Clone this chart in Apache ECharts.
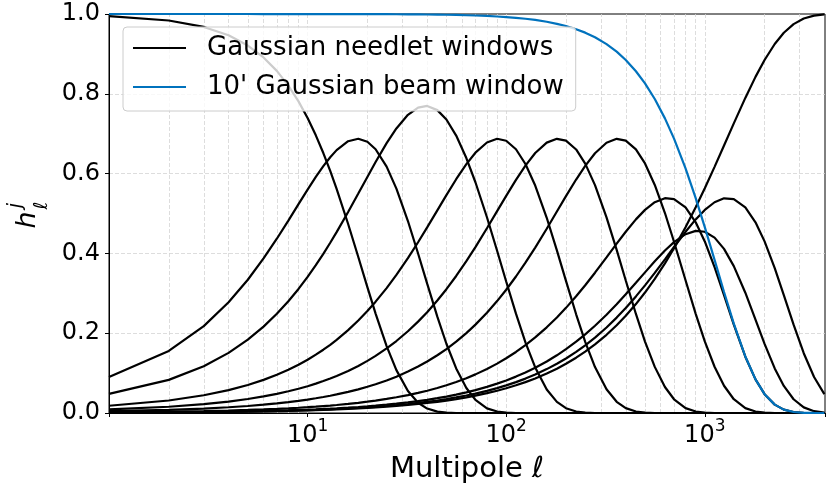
<!DOCTYPE html>
<html>
<head>
<meta charset="utf-8">
<script src="https://cdn.jsdelivr.net/npm/echarts@6/dist/echarts.min.js"></script>
<style>
  html, body { margin: 0; padding: 0; background: #ffffff; }
  #chart { width: 830px; height: 483px; }
</style>
</head>
<body>
<div id="chart"></div>
<script>
// Multipole grid (x values)
const ell = [1,2,3,4,5,6,7,8,9,10,11,12,13,14,16,18,20,22,25,28,32,36,40,45,50,56,63,70,80,90,
  100,112,125,140,160,180,200,225,250,280,320,360,400,450,500,560,630,700,800,900,
  1000,1120,1250,1400,1600,1800,2000,2250,2500,2800,3150,3550,4000];

// Gaussian needlet windows
const needlet1 = [0.9945,0.9837,0.9676,0.9466,0.9209,0.8910,0.8574,0.8206,0.7810,0.7392,0.6959,0.6515,0.6066,0.5617,0.4737,0.3909,0.3155,0.2491,0.1677,0.1075,0.0550,0.0258,0.0111,0.0034,0.0009,
  0,0,0,0,0,0,0,0,0,0,0,0,0,0,0,0,0,0,0,0,0,0,0,0,0,0,0,0,0,0,0,0,0,0,0,0,0,0];
const needlet2 = [0.0905,0.1556,0.2178,0.2774,0.3340,0.3873,0.4368,0.4822,0.5233,0.5597,0.5916,0.6186,0.6410,0.6588,0.6811,0.6873,0.6798,0.6611,0.6176,0.5624,0.4811,0.3998,0.3241,0.2414,0.1736,0.1117,0.0627,0.0330,0.0117,0.0036,
  0.0010,0,0,0,0,0,0,0,0,0,0,0,0,0,0,0,0,0,0,0,0,0,0,0,0,0,0,0,0,0,0,0,0];
const needlet3 = [0.0480,0.0830,0.1171,0.1507,0.1838,0.2165,0.2486,0.2801,0.3109,0.3411,0.3704,0.3989,0.4266,0.4533,0.5037,0.5499,0.5917,0.6290,0.6763,0.7132,0.7473,0.7653,0.7696,0.7591,0.7355,0.6953,0.6390,0.5783,0.4906,0.4066,
  0.3297,0.2490,0.1772,0.1143,0.0590,0.0279,0.0121,0.0037,0.0010,0,0,0,0,0,0,0,0,0,0,0,0,0,0,0,0,0,0,0,0,0,0,0,0];
const needlet4 = [0.0181,0.0314,0.0444,0.0573,0.0702,0.0830,0.0957,0.1084,0.1210,0.1336,0.1462,0.1586,0.1710,0.1834,0.2078,0.2319,0.2556,0.2790,0.3131,0.3461,0.3882,0.4280,0.4652,0.5079,0.5461,0.5859,0.6237,0.6524,0.6780,0.6873,
  0.6823,0.6610,0.6241,0.5701,0.4893,0.4077,0.3313,0.2474,0.1784,0.1152,0.0595,0.0281,0.0122,0.0037,0.0010,0,0,0,0,0,0,0,0,0,0,0,0,0,0,0,0,0,0];
const needlet5 = [0.0091,0.0157,0.0222,0.0287,0.0351,0.0416,0.0480,0.0544,0.0608,0.0672,0.0736,0.0800,0.0863,0.0927,0.1054,0.1180,0.1306,0.1431,0.1618,0.1804,0.2048,0.2290,0.2527,0.2819,0.3103,0.3434,0.3805,0.4159,0.4630,0.5059,
  0.5443,0.5844,0.6201,0.6515,0.6776,0.6872,0.6825,0.6605,0.6250,0.5711,0.4903,0.4087,0.3322,0.2482,0.1790,0.1156,0.0652,0.0344,0.0123,0.0038,0.0010,0,0,0,0,0,0,0,0,0,0,0,0];
const needlet6 = [0.0045,0.0078,0.0111,0.0144,0.0176,0.0208,0.0240,0.0272,0.0304,0.0336,0.0369,0.0401,0.0433,0.0465,0.0529,0.0593,0.0657,0.0720,0.0816,0.0911,0.1038,0.1165,0.1291,0.1447,0.1603,0.1789,0.2003,0.2215,0.2513,0.2805,
  0.3089,0.3421,0.3767,0.4146,0.4619,0.5049,0.5434,0.5851,0.6195,0.6511,0.6774,0.6872,0.6827,0.6607,0.6254,0.5716,0.5012,0.4293,0.3326,0.2485,0.1794,0.1159,0.0683,0.0345,0.0123,0.0038,0.0010,0,0,0,0,0,0];
const needlet7 = [0.0020,0.0034,0.0048,0.0062,0.0076,0.0090,0.0103,0.0117,0.0131,0.0145,0.0159,0.0173,0.0186,0.0200,0.0228,0.0255,0.0283,0.0311,0.0352,0.0394,0.0448,0.0503,0.0558,0.0627,0.0695,0.0777,0.0873,0.0968,0.1103,0.1237,
  0.1371,0.1530,0.1700,0.1894,0.2147,0.2394,0.2635,0.2925,0.3202,0.3516,0.3900,0.4243,0.4543,0.4853,0.5091,0.5283,0.5383,0.5361,0.5151,0.4779,0.4300,0.3658,0.2955,0.2212,0.1411,0.0842,0.0472,0.0210,0.0085,0.0025,0.0005,0,0];
const needlet8 = [0.0012,0.0020,0.0028,0.0037,0.0045,0.0053,0.0061,0.0069,0.0078,0.0086,0.0094,0.0102,0.0110,0.0118,0.0135,0.0151,0.0167,0.0184,0.0208,0.0233,0.0266,0.0298,0.0331,0.0371,0.0412,0.0461,0.0518,0.0574,0.0655,0.0736,
  0.0816,0.0912,0.1016,0.1135,0.1291,0.1446,0.1599,0.1788,0.1972,0.2187,0.2463,0.2726,0.2975,0.3263,0.3524,0.3801,0.4071,0.4282,0.4481,0.4565,0.4543,0.4395,0.4114,0.3682,0.3015,0.2340,0.1732,0.1118,0.0678,0.0345,0.0141,0.0045,0.0010];
const needlet9 = [0.0010,0.0017,0.0024,0.0031,0.0038,0.0045,0.0052,0.0059,0.0066,0.0072,0.0079,0.0086,0.0093,0.0100,0.0114,0.0128,0.0142,0.0155,0.0176,0.0197,0.0224,0.0252,0.0280,0.0314,0.0349,0.0390,0.0438,0.0486,0.0555,0.0623,
  0.0692,0.0774,0.0862,0.0964,0.1100,0.1234,0.1367,0.1533,0.1697,0.1890,0.2144,0.2391,0.2632,0.2922,0.3199,0.3513,0.3852,0.4160,0.4541,0.4852,0.5090,0.5282,0.5380,0.5362,0.5152,0.4780,0.4302,0.3632,0.2956,0.2214,0.1499,0.0902,0.0472];
const needlet10 = [0.0009,0.0015,0.0021,0.0028,0.0034,0.0040,0.0046,0.0052,0.0059,0.0065,0.0071,0.0077,0.0083,0.0090,0.0102,0.0114,0.0127,0.0139,0.0158,0.0176,0.0201,0.0225,0.0250,0.0281,0.0312,0.0349,0.0392,0.0435,0.0497,0.0559,
  0.0620,0.0694,0.0774,0.0866,0.0989,0.1111,0.1234,0.1386,0.1538,0.1720,0.1960,0.2199,0.2436,0.2730,0.3019,0.3361,0.3751,0.4132,0.4657,0.5158,0.5634,0.6169,0.6703,0.7258,0.7897,0.8424,0.8847,0.9248,0.9529,0.9746,0.9886,0.9959,0.9989];

// 10' Gaussian beam window
const beam10 = [1.0000,1.0000,1.0000,1.0000,1.0000,0.9999,0.9999,0.9999,0.9999,0.9999,0.9999,0.9999,0.9999,0.9998,0.9998,0.9997,0.9997,0.9996,0.9995,0.9994,0.9992,0.9990,0.9987,0.9984,0.9981,0.9976,0.9969,0.9962,0.9951,0.9938,
  0.9923,0.9904,0.9881,0.9851,0.9805,0.9754,0.9698,0.9619,0.9533,0.9417,0.9246,0.9056,0.8848,0.8565,0.8260,0.7869,0.7384,0.6877,0.6133,0.5386,0.4659,0.3837,0.3033,0.2239,0.1416,0.0843,0.0472,0.0210,0.0085,0.0025,0.0005,0.0001,0];

// Minor (dashed) vertical grid positions
const minorGrid = [2,3,4,5,6,7,8,9,20,30,40,50,60,70,80,90,200,300,400,500,600,700,800,900,2000,3000];

const needletName = 'Gaussian needlet windows';
const beamName = "10' Gaussian beam window";
const FONT = 'DejaVu Sans';
const GRID_COLOR = '#d4d4d4';

const needlets = [needlet1,needlet2,needlet3,needlet4,needlet5,needlet6,needlet7,needlet8,needlet9,needlet10];
const pairs = arr => ell.map((l, i) => [l, arr[i]]);

const series = [];
series.push({
  name: 'minor-grid', type: 'line', data: [], z: 1, silent: true,
  markLine: {
    z: 1, silent: true, symbol: ['none','none'], animation: false,
    label: { show: false },
    lineStyle: { color: GRID_COLOR, width: 0.8, type: [4, 2] },
    data: minorGrid.map(v => ({ xAxis: v }))
  }
});
needlets.forEach(arr => {
  series.push({
    name: needletName, type: 'line', data: pairs(arr), symbol: 'none', smooth: false,
    lineStyle: { color: '#000000', width: 2.2 }, itemStyle: { color: '#000000' }, z: 3
  });
});
series.push({
  name: beamName, type: 'line', data: pairs(beam10), symbol: 'none', smooth: false,
  lineStyle: { color: '#0072BD', width: 2.2 }, itemStyle: { color: '#0072BD' }, z: 3
});

const chart = echarts.init(document.getElementById('chart'), null, { renderer: 'canvas' });
chart.setOption({
  animation: false,
  backgroundColor: '#ffffff',
  textStyle: { fontFamily: FONT },
  grid: { left: 109, top: 14, right: 5, bottom: 70, containLabel: false, outerBoundsMode: 'none',
    show: true, borderColor: '#000', borderWidth: 1, backgroundColor: 'transparent' },
  legend: {
    data: [needletName, beamName],
    orient: 'vertical', left: 123, top: 27,
    icon: 'rect', itemWidth: 53, itemHeight: 2, itemGap: 9,
    padding: [6, 12, 9, 10],
    backgroundColor: 'rgba(255,255,255,0.8)',
    borderColor: '#cccccc', borderWidth: 1, borderRadius: 4,
    selectedMode: false,
    textStyle: { fontFamily: FONT, fontSize: 26, color: '#000', lineHeight: 30, padding: [0, 0, 0, 16] }
  },
  xAxis: {
    type: 'log', logBase: 10, min: 1, max: 4030,
    name: 'Multipole {i|ℓ}', nameLocation: 'middle', nameGap: 31,
    nameTextStyle: { fontFamily: FONT, fontSize: 29, color: '#000', lineHeight: 34,
      rich: { i: { fontFamily: FONT, fontSize: 29, fontStyle: 'italic', color: '#000', lineHeight: 34 } } },
    axisLine: { show: true, lineStyle: { color: '#000', width: 1 } },
    axisTick: { show: true, length: 4, lineStyle: { color: '#000' } },
    splitLine: { show: true, showMinLine: false, showMaxLine: false, lineStyle: { color: GRID_COLOR, width: 0.8, type: [4, 2] } },
    axisLabel: {
      margin: 5, color: '#000',
      formatter: function (v) {
        const l = Math.log10(v), r = Math.round(l);
        if (Math.abs(l - r) < 1e-6 && r >= 1) return '{b|10}{s|' + r + '}';
        return '';
      },
      rich: {
        b: { fontFamily: FONT, fontSize: 24, color: '#000', lineHeight: 30, verticalAlign: 'bottom' },
        s: { fontFamily: FONT, fontSize: 17, color: '#000', lineHeight: 17, verticalAlign: 'top' }
      }
    }
  },
  yAxis: {
    type: 'value', min: 0, max: 1, interval: 0.2,
    axisLine: { show: true, lineStyle: { color: '#000', width: 1 } },
    axisTick: { show: true, length: 4, lineStyle: { color: '#000' } },
    splitLine: { show: true, showMinLine: false, showMaxLine: false, lineStyle: { color: GRID_COLOR, width: 0.8, type: [4, 2] } },
    axisLabel: { margin: 9, color: '#000', fontFamily: FONT, fontSize: 24, formatter: v => v.toFixed(1) }
  },
  graphic: [
    { type: 'text', x: 28, y: 220, rotation: Math.PI / 2, z: 10,
      style: { text: 'h', font: 'italic 27px "DejaVu Sans"', fill: '#000', textAlign: 'center', textVerticalAlign: 'middle', align: 'center', verticalAlign: 'middle' } },
    { type: 'text', x: 16.5, y: 205.5, rotation: Math.PI / 2, z: 10,
      style: { text: 'j', font: 'italic 19px "DejaVu Sans"', fill: '#000', textAlign: 'center', textVerticalAlign: 'middle', align: 'center', verticalAlign: 'middle' } },
    { type: 'text', x: 42, y: 205.5, rotation: Math.PI / 2, z: 10,
      style: { text: 'ℓ', font: 'italic 19px "DejaVu Sans"', fill: '#000', textAlign: 'center', textVerticalAlign: 'middle', align: 'center', verticalAlign: 'middle' } }
  ],
  series: series
});
</script>
</body>
</html>
